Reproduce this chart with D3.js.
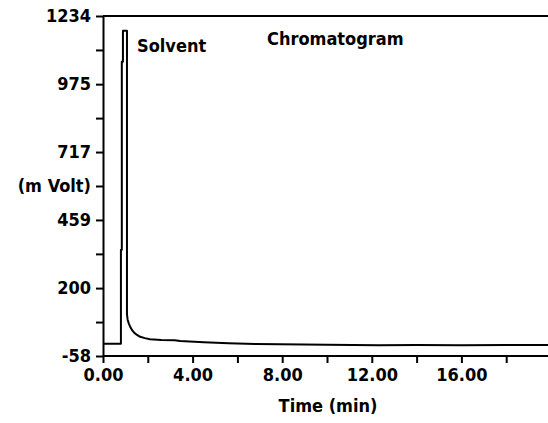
<!DOCTYPE html>
<html>
<head>
<meta charset="utf-8">
<script src="https://cdn.jsdelivr.net/npm/d3@7"></script>
<style>
  body { margin: 0; background: #fff; }
  svg text { font-family: "DejaVu Sans Condensed", "DejaVu Sans", sans-serif; font-weight: bold; fill: #000; font-size: 18px; }
</style>
</head>
<body>
<svg width="548" height="423"></svg>
<script>
let svg = d3.select("svg"),
 width = +svg.attr("width"),
 height = +svg.attr("height");

// signal trace (time in min, signal in mV)
let times  = [0, 0.80, 0.80, 0.84, 0.84, 0.89, 0.89, 1.07, 1.07, 1.10, 1.15, 1.22, 1.30, 1.40, 1.52, 1.66, 1.87, 2.10, 2.60, 3.20, 3.45, 4.50, 5.60, 6.80, 7.90, 10.0, 12.3, 14.0, 16.0, 18.0, 20.0];
let signal = [-11, -11, 346, 346, 1060, 1060, 1178, 1178, 100, 80, 66, 52, 40, 30, 22, 15, 10, 6, 3, 2, -1, -6, -9.6, -12, -13.4, -15.5, -17, -16.5, -17, -16, -16];

// axis ticks
let xTicks = [0, 2, 4, 6, 8, 10, 12, 14, 16, 18];
let xTickLabels = ["0.00", "", "4.00", "", "8.00", "", "12.00", "", "16.00", ""];
let yTicks = [-58, 71, 200, 330, 459, 588, 717, 846, 975, 1105, 1234];
let yTickLabels = ["-58", "", "200", "", "459", "(m Volt)", "717", "", "975", "", "1234"];

let x = d3.scaleLinear().domain([0, 20]).range([103, 551]);
let y = d3.scaleLinear().domain([-58, 1234]).range([356, 16]);

let data = times.map(function(t, i) { return {t: t, v: signal[i]}; });

// top frame line
svg.append("line")
    .attr("x1", x(0)).attr("x2", width)
    .attr("y1", y(1234)).attr("y2", y(1234))
    .attr("stroke", "#000").attr("stroke-width", 2);

// x axis
let xAxis = svg.append("g")
    .attr("transform", "translate(0," + y(-58) + ")")
    .call(d3.axisBottom(x).tickValues(xTicks)
        .tickFormat(function(d, i) { return xTickLabels[i]; })
        .tickSize(7).tickPadding(5).tickSizeOuter(0));

// y axis
let yAxis = svg.append("g")
    .attr("transform", "translate(" + x(0) + ",0)")
    .call(d3.axisLeft(y).tickValues(yTicks)
        .tickFormat(function(d, i) { return yTickLabels[i]; })
        .tickSize(7).tickPadding(5).tickSizeOuter(0));

svg.selectAll("g").attr("font-size", null).attr("font-family", null);
svg.selectAll(".domain, .tick line")
    .attr("stroke", "#000").attr("stroke-width", 2);
xAxis.select(".domain").attr("d", "M" + x(0) + ",0H" + width);

// trace
let line = d3.line()
    .x(function(d) { return x(d.t); })
    .y(function(d) { return y(d.v); });

svg.append("path")
    .datum(data)
    .attr("fill", "none")
    .attr("stroke", "#000")
    .attr("stroke-width", 2)
    .attr("stroke-linejoin", "round")
    .attr("d", line);

// labels
svg.append("text")
    .attr("x", 137).attr("y", 52)
    .text("Solvent");

svg.append("text")
    .attr("x", 267).attr("y", 45)
    .text("Chromatogram");

svg.append("text")
    .attr("x", 328).attr("y", 412)
    .attr("text-anchor", "middle")
    .text("Time (min)");
</script>
</body>
</html>
